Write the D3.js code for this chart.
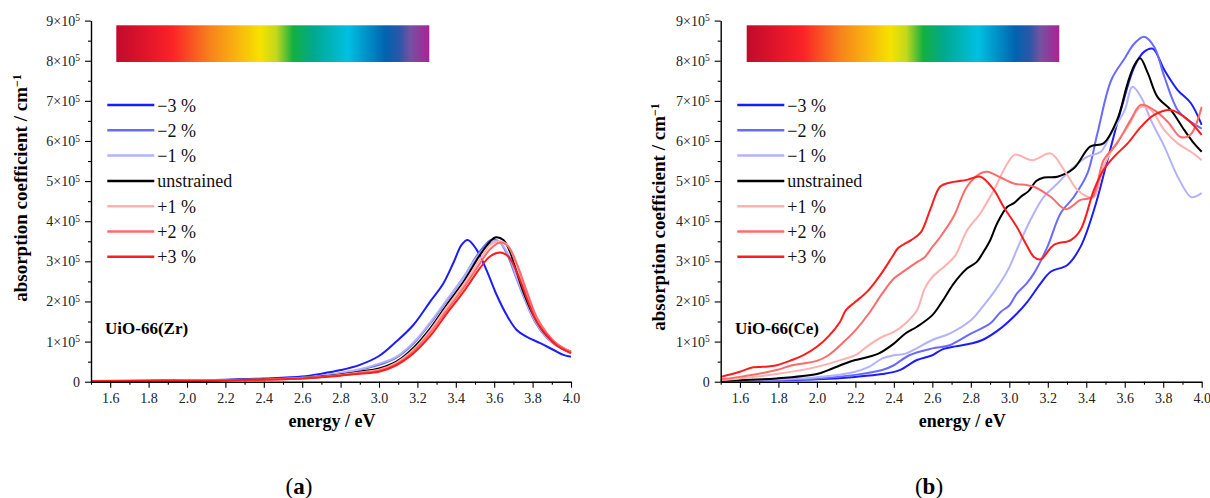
<!DOCTYPE html>
<html><head><meta charset="utf-8">
<script src="https://cdn.jsdelivr.net/npm/d3@7"></script>
<style>
html,body{margin:0;padding:0;background:#fff;}
</style></head>
<body>
<svg id="chart" width="1210" height="498" font-family="Liberation Serif, DejaVu Serif, serif"></svg>
<script>
// ---------- data (energy eV, absorption coefficient in 1e5 cm^-1) ----------
const seriesLabels = ["\u22123 %", "\u22122 %", "\u22121 %", "unstrained", "+1 %", "+2 %", "+3 %"];
const seriesColors = ["#1c1cff", "#6a6aff", "#b2b2ff", "#000000", "#ffb0b0", "#ff6a6a", "#ff1c1c"];
const xTicks = [1.6, 1.8, 2.0, 2.2, 2.4, 2.6, 2.8, 3.0, 3.2, 3.4, 3.6, 3.8, 4.0];
const xMinorTicks = [1.5, 1.7, 1.9, 2.1, 2.3, 2.5, 2.7, 2.9, 3.1, 3.3, 3.5, 3.7, 3.9];
const yTicks = [0, 1, 2, 3, 4, 5, 6, 7, 8, 9];
const yMinorTicks = [0.5, 1.5, 2.5, 3.5, 4.5, 5.5, 6.5, 7.5, 8.5];
const panelTitles = ["UiO-66(Zr)", "UiO-66(Ce)"];
const panelLetters = ["a", "b"];

// UiO-66(Zr)
const zrM3 = [[1.5,0.02],[1.8,0.03],[2.0,0.04],[2.2,0.05],[2.4,0.08],[2.6,0.13],[2.7,0.2],[2.8,0.29],[2.9,0.42],[3.0,0.64],[3.09,1.0],[3.18,1.42],[3.27,2.02],[3.335,2.45],[3.39,2.99],[3.43,3.41],[3.462,3.53],[3.51,3.28],[3.56,2.78],[3.613,2.16],[3.665,1.66],[3.717,1.29],[3.77,1.12],[3.84,0.96],[3.91,0.79],[3.96,0.67],[4.0,0.62]];
const zrM2 = [[1.5,0.01],[1.8,0.02],[2.0,0.03],[2.2,0.04],[2.4,0.06],[2.6,0.1],[2.7,0.15],[2.8,0.21],[2.9,0.3],[3.0,0.42],[3.09,0.6],[3.18,0.95],[3.27,1.47],[3.35,2.0],[3.44,2.6],[3.526,3.25],[3.59,3.55],[3.63,3.47],[3.67,3.15],[3.71,2.65],[3.77,1.93],[3.82,1.43],[3.873,1.1],[3.925,0.9],[4.0,0.72]];
const zrM1 = [[1.5,0.01],[1.8,0.02],[2.0,0.03],[2.2,0.04],[2.4,0.06],[2.6,0.1],[2.7,0.15],[2.8,0.22],[2.9,0.31],[3.0,0.45],[3.09,0.62],[3.18,0.98],[3.27,1.5],[3.35,2.02],[3.44,2.6],[3.526,3.2],[3.6,3.5],[3.64,3.42],[3.68,3.1],[3.717,2.6],[3.77,1.95],[3.82,1.45],[3.873,1.12],[3.925,0.92],[4.0,0.74]];
const zrUn = [[1.5,0.01],[1.8,0.02],[2.0,0.03],[2.2,0.04],[2.4,0.06],[2.6,0.09],[2.7,0.13],[2.8,0.18],[2.9,0.25],[3.0,0.33],[3.09,0.5],[3.18,0.85],[3.27,1.35],[3.35,1.9],[3.44,2.49],[3.526,3.16],[3.578,3.49],[3.608,3.6],[3.648,3.53],[3.682,3.24],[3.717,2.74],[3.752,2.24],[3.804,1.66],[3.856,1.25],[3.908,1.0],[3.96,0.83],[4.0,0.75]];
const zrP1 = [[1.5,0.01],[1.8,0.02],[2.0,0.03],[2.2,0.04],[2.4,0.05],[2.6,0.09],[2.7,0.12],[2.8,0.17],[2.9,0.23],[3.0,0.3],[3.09,0.47],[3.18,0.8],[3.27,1.3],[3.35,1.84],[3.44,2.42],[3.526,3.05],[3.578,3.4],[3.625,3.5],[3.67,3.4],[3.717,2.9],[3.77,2.2],[3.82,1.6],[3.873,1.2],[3.925,0.95],[4.0,0.74]];
const zrP2 = [[1.5,0.01],[1.8,0.02],[2.0,0.03],[2.2,0.04],[2.4,0.05],[2.6,0.08],[2.7,0.12],[2.8,0.16],[2.9,0.22],[3.0,0.28],[3.09,0.44],[3.18,0.76],[3.27,1.24],[3.35,1.76],[3.44,2.34],[3.526,2.95],[3.578,3.3],[3.632,3.47],[3.675,3.36],[3.717,2.95],[3.77,2.25],[3.82,1.62],[3.873,1.22],[3.925,0.95],[4.0,0.73]];
const zrP3 = [[1.5,0.01],[1.8,0.02],[2.0,0.02],[2.2,0.03],[2.4,0.05],[2.6,0.08],[2.7,0.11],[2.8,0.15],[2.9,0.2],[3.0,0.25],[3.09,0.41],[3.18,0.71],[3.27,1.16],[3.35,1.68],[3.44,2.24],[3.526,2.83],[3.578,3.12],[3.63,3.22],[3.674,3.12],[3.717,2.74],[3.77,2.08],[3.82,1.5],[3.873,1.16],[3.925,0.91],[4.0,0.71]];

// UiO-66(Ce)
const ceM3 = [[1.5,0.02],[2.0,0.06],[2.2,0.12],[2.34,0.19],[2.43,0.29],[2.52,0.54],[2.6,0.66],[2.65,0.8],[2.72,0.88],[2.8,0.95],[2.86,1.04],[2.955,1.33],[3.04,1.7],[3.094,1.99],[3.163,2.45],[3.215,2.74],[3.302,2.91],[3.37,3.36],[3.44,4.28],[3.51,5.52],[3.58,6.77],[3.65,7.85],[3.70,8.22],[3.745,8.3],[3.806,7.77],[3.875,7.27],[3.944,6.94],[4.0,6.4]];
const ceM2 = [[1.5,0.02],[2.0,0.08],[2.2,0.17],[2.34,0.29],[2.4,0.41],[2.48,0.66],[2.6,0.83],[2.69,0.91],[2.8,1.2],[2.9,1.45],[2.955,1.74],[3.0,1.9],[3.04,2.2],[3.09,2.45],[3.128,2.7],[3.198,3.36],[3.267,4.2],[3.336,4.61],[3.406,5.19],[3.458,6.19],[3.53,7.52],[3.6,8.06],[3.65,8.43],[3.70,8.6],[3.753,8.35],[3.806,7.6],[3.875,6.77],[3.93,6.52],[4.0,6.31]];
const ceM1 = [[1.5,0.02],[1.79,0.06],[2.0,0.11],[2.2,0.25],[2.27,0.37],[2.34,0.58],[2.4,0.66],[2.46,0.7],[2.6,1.04],[2.69,1.2],[2.8,1.53],[2.86,1.86],[2.93,2.3],[3.0,2.85],[3.04,3.3],[3.11,4.03],[3.18,4.61],[3.25,4.94],[3.336,5.36],[3.406,5.61],[3.475,5.73],[3.53,6.19],[3.6,6.77],[3.64,7.35],[3.684,7.1],[3.736,6.52],[3.806,5.86],[3.875,5.11],[3.944,4.6],[3.97,4.62],[4.0,4.7]];
const ceUn = [[1.5,0.02],[1.6,0.04],[1.79,0.08],[2.0,0.19],[2.06,0.29],[2.15,0.46],[2.2,0.54],[2.27,0.62],[2.32,0.7],[2.4,0.95],[2.46,1.2],[2.52,1.37],[2.6,1.66],[2.65,1.99],[2.71,2.44],[2.78,2.82],[2.83,2.98],[2.86,3.19],[2.9,3.52],[2.937,3.95],[2.99,4.36],[3.024,4.45],[3.06,4.61],[3.1,4.75],[3.14,5.0],[3.18,5.09],[3.25,5.11],[3.336,5.32],[3.42,5.86],[3.49,5.94],[3.56,6.52],[3.615,7.44],[3.65,7.89],[3.68,8.06],[3.72,7.69],[3.77,7.1],[3.84,6.77],[3.91,6.27],[3.96,5.94],[4.0,5.73]];
const ceP1 = [[1.5,0.04],[1.6,0.08],[1.79,0.19],[2.0,0.37],[2.15,0.58],[2.2,0.66],[2.27,0.91],[2.34,1.12],[2.4,1.24],[2.46,1.45],[2.52,1.78],[2.56,2.32],[2.6,2.61],[2.67,2.9],[2.72,3.15],[2.78,3.77],[2.85,4.2],[2.92,4.78],[2.99,5.44],[3.03,5.66],[3.12,5.52],[3.215,5.69],[3.284,5.28],[3.354,4.78],[3.406,4.61],[3.44,4.6],[3.49,5.36],[3.545,5.86],[3.615,6.35],[3.684,6.85],[3.736,6.77],[3.806,6.27],[3.875,5.94],[3.944,5.73],[4.0,5.52]];
const ceP2 = [[1.5,0.06],[1.6,0.12],[1.79,0.29],[1.87,0.41],[2.0,0.52],[2.06,0.66],[2.15,1.04],[2.2,1.28],[2.27,1.7],[2.34,2.2],[2.4,2.57],[2.46,2.78],[2.52,2.98],[2.56,3.1],[2.6,3.36],[2.64,3.6],[2.71,4.11],[2.78,4.86],[2.85,5.19],[2.885,5.23],[2.955,5.09],[3.024,4.94],[3.09,4.9],[3.128,4.86],[3.215,4.61],[3.293,4.3],[3.37,4.53],[3.432,4.61],[3.49,5.52],[3.56,5.94],[3.63,6.52],[3.684,6.9],[3.753,6.77],[3.823,6.48],[3.89,6.1],[3.94,6.15],[4.0,6.85]];
const ceP3 = [[1.5,0.12],[1.6,0.25],[1.67,0.36],[1.72,0.37],[1.79,0.41],[1.87,0.54],[1.93,0.66],[2.0,0.87],[2.06,1.13],[2.12,1.49],[2.15,1.78],[2.2,1.99],[2.26,2.24],[2.31,2.53],[2.34,2.73],[2.39,3.1],[2.42,3.32],[2.45,3.42],[2.49,3.53],[2.54,3.72],[2.59,4.3],[2.64,4.86],[2.69,4.96],[2.78,5.03],[2.85,5.11],[2.92,4.78],[2.97,4.36],[3.04,3.85],[3.09,3.4],[3.128,3.11],[3.163,3.05],[3.232,3.41],[3.32,3.53],[3.37,3.78],[3.44,4.78],[3.49,5.28],[3.545,5.61],[3.615,5.94],[3.684,6.35],[3.753,6.65],[3.84,6.77],[3.93,6.52],[4.0,6.15]];

const zrSeries = [zrM3, zrM2, zrM1, zrUn, zrP1, zrP2, zrP3];
const ceSeries = [ceM3, ceM2, ceM1, ceUn, ceP1, ceP2, ceP3];

// rainbow colour bar
const rainbowStops = [[0,"#c20a2c"],[0.1,"#e2152b"],[0.18,"#fb2326"],[0.3,"#f7831c"],[0.38,"#f9b010"],[0.46,"#f6e200"],[0.51,"#c4d81c"],[0.565,"#12b040"],[0.63,"#00a98e"],[0.74,"#00c0e2"],[0.86,"#0063b0"],[0.905,"#2b57a8"],[0.94,"#7551a2"],[1,"#ac2294"]];

// ---------- drawing ----------
const FONT = "Liberation Serif, DejaVu Serif, serif";
const svg = d3.select("#chart");
const defs = svg.append("defs");
const grad = defs.append("linearGradient").attr("id","rainbow").attr("x1","0%").attr("x2","100%").attr("y1","0%").attr("y2","0%");
rainbowStops.forEach(s => grad.append("stop").attr("offset", s[0]).attr("stop-color", s[1]));

const panels = [
  {x0: 91, x1: 571, series: zrSeries, ytX: 26.5, ytY: 188, barX0: 116.3, barX1: 429.3, legX: 107.3, titleX: 105, letterX: 299},
  {x0: 720.7, x1: 1201.7, series: ceSeries, ytX: 665, ytY: 217, barX0: 746.7, barX1: 1059.3, legX: 737.3, titleX: 735, letterX: 929}
];
const yTop = 20.6, yBot = 381.7;

panels.forEach((p, pi) => {
  const x = d3.scaleLinear().domain([1.5, 4.0]).range([p.x0, p.x1]);
  const y = d3.scaleLinear().domain([0, 9]).range([yBot, yTop]);
  const g = svg.append("g").attr("font-family", FONT);

  const cid = "clip" + pi;
  defs.append("clipPath").attr("id", cid).append("rect")
    .attr("x", p.x0).attr("y", yTop - 2).attr("width", p.x1 - p.x0 + 1).attr("height", yBot - yTop + 2);

  g.append("rect").attr("x", p.barX0).attr("y", 25.3).attr("width", p.barX1 - p.barX0).attr("height", 36.7)
    .attr("fill", "url(#rainbow)");

  const line = d3.line().x(d => x(d[0])).y(d => y(d[1])).curve(d3.curveCatmullRom.alpha(0.5));
  const lg = g.append("g").attr("clip-path", `url(#${cid})`);
  p.series.forEach((s, i) => {
    lg.append("path").datum(s).attr("d", line).attr("fill", "none")
      .attr("stroke", seriesColors[i]).attr("stroke-width", 2).attr("stroke-linejoin", "round");
  });

  const yAxis = d3.axisLeft(y).tickValues(yTicks).tickSize(6).tickSizeOuter(0).tickPadding(5);
  const ya = g.append("g").attr("transform", `translate(${p.x0},0)`).call(yAxis);
  ya.selectAll(".tick text").each(function(d) {
    const t = d3.select(this); t.text(null);
    if (d === 0) { t.text("0"); return; }
    t.append("tspan").text(d + "\u00d710");
    t.append("tspan").attr("dy", "-0.45em").attr("font-size", "9.5px").text("5");
  });
  g.append("g").attr("transform", `translate(${p.x0},0)`)
    .call(d3.axisLeft(y).tickValues(yMinorTicks).tickSize(3).tickSizeOuter(0).tickFormat(""))
    .select(".domain").remove();

  const xAxis = d3.axisBottom(x).tickValues(xTicks).tickSize(6).tickSizeOuter(0).tickPadding(5).tickFormat(d3.format(".1f"));
  g.append("g").attr("transform", `translate(0,${yBot})`).call(xAxis);
  g.append("g").attr("transform", `translate(0,${yBot})`)
    .call(d3.axisBottom(x).tickValues(xMinorTicks).tickSize(3).tickSizeOuter(0).tickFormat(""))
    .select(".domain").remove();

  g.selectAll("g").attr("font-family", FONT);
  g.selectAll(".domain").attr("stroke", "#000").attr("stroke-width", 1.4);
  g.selectAll(".tick line").attr("stroke", "#000").attr("stroke-width", 1.1);
  g.selectAll(".tick text").attr("font-size", 14).attr("fill", "#222");

  const yt = g.append("text").attr("transform", `translate(${p.ytX},${p.ytY}) rotate(-90)`)
    .attr("text-anchor", "middle").attr("font-weight", "bold").attr("font-size", 19);
  yt.append("tspan").text("absorption coefficient / cm");
  yt.append("tspan").attr("dy", "-0.5em").attr("font-size", "12px").text("\u22121");

  g.append("text").attr("x", (p.x0 + p.x1) / 2 + 1).attr("y", 427).attr("text-anchor", "middle")
    .attr("font-weight", "bold").attr("font-size", 18).text("energy / eV");

  g.append("text").attr("x", p.titleX).attr("y", 334).attr("font-weight", "bold").attr("font-size", 17)
    .text(panelTitles[pi]);

  seriesLabels.forEach((lab, i) => {
    const ly = 105 + i * 25.3;
    g.append("line").attr("x1", p.legX).attr("x2", p.legX + 47).attr("y1", ly).attr("y2", ly)
      .attr("stroke", seriesColors[i]).attr("stroke-width", 2.5);
    g.append("text").attr("x", p.legX + 50).attr("y", ly + 6.5).attr("font-size", 18).attr("fill", "#111").text(lab);
  });

  const lt = g.append("text").attr("x", p.letterX).attr("y", 494).attr("text-anchor", "middle").attr("font-size", 23);
  lt.append("tspan").text("(");
  lt.append("tspan").attr("font-weight", "bold").text(panelLetters[pi]);
  lt.append("tspan").text(")");
});
</script>
</body></html>
